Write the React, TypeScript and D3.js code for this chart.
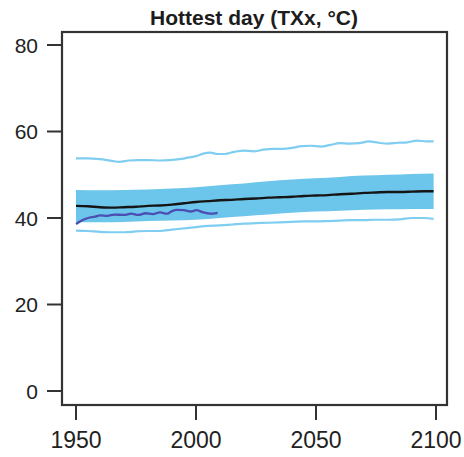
import React from "react";
import * as d3 from "d3";

const title = "Hottest day (TXx, °C)";
const xTicks = [1950, 2000, 2050, 2100];
const yTicks = [0, 20, 40, 60, 80];

const upperYears = [1950, 1955, 1960, 1965, 1968, 1972, 1976, 1980, 1985, 1989, 1993, 1997, 2000, 2003, 2006, 2009, 2012, 2016, 2020, 2024, 2028, 2032, 2036, 2040, 2044, 2048, 2052, 2056, 2060, 2064, 2068, 2072, 2076, 2080, 2084, 2088, 2092, 2096, 2099];
const upperVals = [53.8, 53.8, 53.6, 53.2, 53.0, 53.3, 53.4, 53.4, 53.3, 53.4, 53.6, 54.0, 54.3, 54.9, 55.1, 54.8, 54.8, 55.3, 55.6, 55.4, 55.8, 56.0, 56.0, 56.2, 56.6, 56.7, 56.5, 56.9, 57.3, 57.2, 57.3, 57.7, 57.4, 57.2, 57.4, 57.5, 57.9, 57.7, 57.7];

const lowerYears = [1950, 1955, 1960, 1965, 1970, 1975, 1980, 1985, 1990, 1995, 2000, 2005, 2010, 2015, 2020, 2025, 2030, 2035, 2040, 2045, 2050, 2055, 2060, 2065, 2070, 2075, 2080, 2085, 2090, 2095, 2099];
const lowerVals = [37.1, 37.0, 36.8, 36.7, 36.7, 36.9, 37.0, 37.0, 37.3, 37.6, 37.9, 38.2, 38.3, 38.5, 38.7, 38.8, 38.9, 39.0, 39.1, 39.2, 39.2, 39.3, 39.4, 39.5, 39.5, 39.6, 39.6, 39.7, 40.0, 40.0, 39.8];

const meanYears = [1950, 1955, 1960, 1965, 1970, 1975, 1980, 1985, 1990, 1995, 2000, 2005, 2010, 2015, 2020, 2025, 2030, 2035, 2040, 2045, 2050, 2055, 2060, 2065, 2070, 2075, 2080, 2085, 2090, 2095, 2099];
const meanVals = [42.8, 42.7, 42.5, 42.4, 42.5, 42.6, 42.8, 42.9, 43.1, 43.4, 43.7, 43.9, 44.1, 44.2, 44.4, 44.5, 44.7, 44.8, 44.9, 45.1, 45.2, 45.3, 45.5, 45.6, 45.8, 45.9, 46.0, 46.0, 46.1, 46.2, 46.2];

const bandYears = [1950, 1960, 1970, 1980, 1990, 2000, 2010, 2020, 2030, 2040, 2050, 2060, 2070, 2080, 2090, 2099];
const bandTop = [46.5, 46.4, 46.5, 46.6, 46.8, 47.1, 47.6, 48.0, 48.5, 48.9, 49.2, 49.5, 49.8, 50.0, 50.2, 50.3];
const bandBottom = [39.0, 39.0, 39.1, 39.3, 39.4, 39.6, 40.0, 40.4, 40.8, 41.2, 41.5, 41.7, 41.9, 42.0, 42.1, 42.1];

const obsYears = [1950, 1952, 1955, 1958, 1960, 1963, 1966, 1970, 1973, 1976, 1979, 1982, 1985, 1988, 1990, 1992, 1995, 1998, 2000, 2003, 2006, 2009];
const obsVals = [38.6, 39.3, 40.0, 40.3, 40.6, 40.5, 40.8, 40.7, 41.0, 40.7, 41.1, 40.9, 41.3, 41.0, 41.6, 41.9, 41.8, 41.5, 41.8, 41.3, 41.0, 41.2];

export default function App() {
  const frame = { left: 62, right: 447, top: 32, bottom: 405 };
  const x = d3.scaleLinear().domain([1950, 2100]).range([76, 436]);
  const y = d3.scaleLinear().domain([0, 80]).range([391, 45]);

  const line = d3
    .line<[number, number]>()
    .x((d) => x(d[0]))
    .y((d) => y(d[1]))
    .curve(d3.curveMonotoneX);

  const area = d3
    .area<number>()
    .x((_, i) => x(bandYears[i]))
    .y0((_, i) => y(bandBottom[i]))
    .y1((_, i) => y(bandTop[i]))
    .curve(d3.curveMonotoneX);

  const zip = (a: number[], b: number[]) => a.map((v, i) => [v, b[i]] as [number, number]);

  const axisColor = "#333";
  const font = "'Liberation Sans', Arial, Helvetica, sans-serif";

  return (
    <svg
      width={464}
      height={457}
      style={{ position: "absolute", left: 0, top: 0, background: "#fff" }}
    >
      <text
        x={254}
        y={25}
        textAnchor="middle"
        fontFamily={font}
        fontWeight="bold"
        fontSize={21}
        fill="#1c1c1c"
      >
        {title}
      </text>

      <path d={area(bandYears) || ""} fill="#6cc5ea" stroke="none" />
      <path d={line(zip(upperYears, upperVals)) || ""} fill="none" stroke="#7fcdf0" strokeWidth={2.2} />
      <path d={line(zip(lowerYears, lowerVals)) || ""} fill="none" stroke="#7fcdf0" strokeWidth={2.2} />
      <path d={line(zip(meanYears, meanVals)) || ""} fill="none" stroke="#151515" strokeWidth={2.4} />
      <path d={line(zip(obsYears, obsVals)) || ""} fill="none" stroke="#4b4eb2" strokeWidth={2.3} />

      <rect
        x={frame.left}
        y={frame.top}
        width={frame.right - frame.left}
        height={frame.bottom - frame.top}
        fill="none"
        stroke={axisColor}
        strokeWidth={2.2}
      />

      {yTicks.map((t) => (
        <g key={"y" + t}>
          <line x1={47} x2={frame.left} y1={y(t)} y2={y(t)} stroke={axisColor} strokeWidth={2} />
          <text
            x={38}
            y={y(t)}
            dy="0.36em"
            textAnchor="end"
            fontFamily={font}
            fontSize={21}
            fill="#222"
          >
            {t}
          </text>
        </g>
      ))}

      {xTicks.map((t) => (
        <g key={"x" + t}>
          <line x1={x(t)} x2={x(t)} y1={frame.bottom} y2={420} stroke={axisColor} strokeWidth={2} />
          <text
            x={x(t)}
            y={448}
            textAnchor="middle"
            fontFamily={font}
            fontSize={23}
            fill="#222"
          >
            {t}
          </text>
        </g>
      ))}
    </svg>
  );
}
